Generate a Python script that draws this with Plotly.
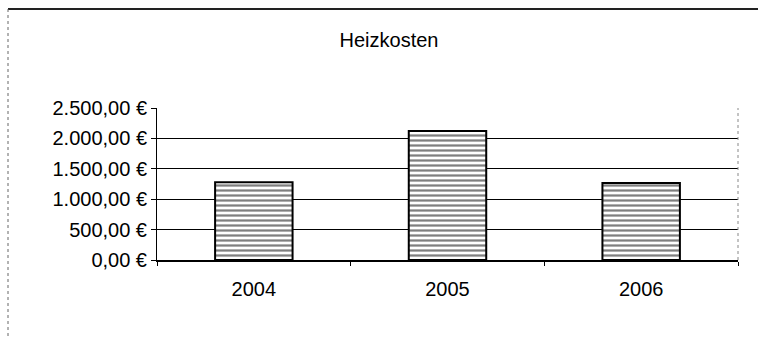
import plotly.graph_objects as go

# Heating costs per year
years = ["2004", "2005", "2006"]
costs = [1280, 2120, 1265]
y_ticks = [0, 500, 1000, 1500, 2000, 2500]

W, H = 758, 337
L, R, T, B = 157, 20, 108, 77
pw, ph = W - L - R, H - T - B


def px_x(x):
    return (x - L) / pw


def px_y(y):
    return (H - B - y) / ph


def euro(v):
    # German currency format: 2.500,00 €
    s = f"{v:,.2f}".replace(",", "X").replace(".", ",").replace("X", ".")
    return s + "\u00a0\u20ac"


FONT = "Liberation Sans, Arial, sans-serif"

fig = go.Figure(
    go.Bar(
        x=years,
        y=costs,
        width=0.4,
        marker=dict(
            color="white",
            line=dict(color="black", width=2),
            pattern=dict(shape="-", fgcolor="black", bgcolor="white",
                         size=5, solidity=0.45, fillmode="overlay"),
        ),
    )
)

fig.update_layout(
    width=W, height=H,
    margin=dict(l=L, r=R, t=T, b=B),
    paper_bgcolor="white", plot_bgcolor="white",
    showlegend=False,
    font=dict(family=FONT, size=20, color="black"),
    title=dict(text="Heizkosten", x=389 / W, xanchor="center",
               y=1 - 40 / H, yanchor="middle",
               font=dict(family=FONT, size=20, color="black")),
    bargap=0.6,
)

fig.update_xaxes(
    showline=True, linecolor="black", linewidth=1.5,
    ticks="outside", ticklen=4, tickcolor="black", tickson="boundaries",
    showgrid=False, tickfont=dict(size=20), ticklabelstandoff=10,
)
fig.update_yaxes(
    range=[0, 2500], tickvals=y_ticks, ticktext=[euro(v) for v in y_ticks],
    showline=True, linecolor="black", linewidth=1,
    ticks="outside", ticklen=5, tickcolor="black",
    showgrid=True, gridcolor="black", gridwidth=1,
    zeroline=False, tickfont=dict(size=20),
)

shapes = [
    # plot area right border
    dict(type="line", xref="paper", yref="paper", x0=1, x1=1, y0=0, y1=1,
         line=dict(color="#888888", width=1, dash="dot")),
    # outer chart frame: top and left edges
    dict(type="line", xref="paper", yref="paper",
         x0=px_x(8), x1=px_x(758), y0=px_y(9), y1=px_y(9),
         line=dict(color="#222222", width=2)),
    dict(type="line", xref="paper", yref="paper",
         x0=px_x(8), x1=px_x(8), y0=px_y(9), y1=px_y(337),
         line=dict(color="#666666", width=1, dash="dot")),
]
fig.update_layout(shapes=shapes)

fig.write_html("out.html")
